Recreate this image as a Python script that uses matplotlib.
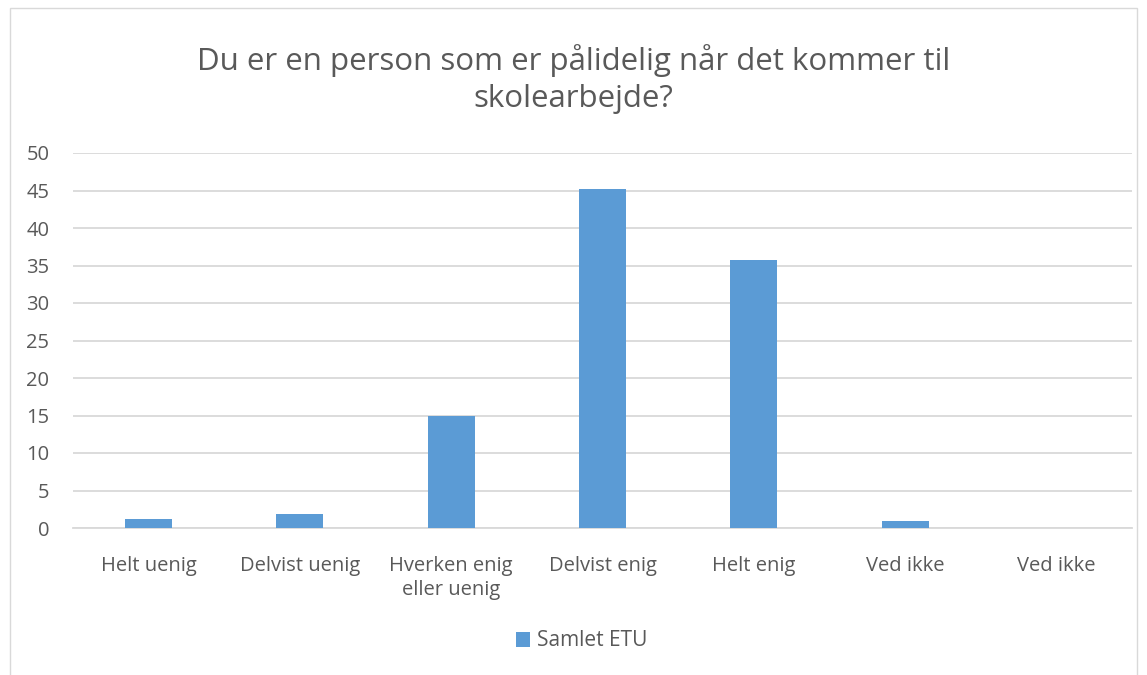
import matplotlib
matplotlib.use("Agg")
import matplotlib.pyplot as plt
from matplotlib.patches import Rectangle

categories = ["Helt uenig", "Delvist uenig", "Hverken enig\neller uenig",
              "Delvist enig", "Helt enig", "Ved ikke", "Ved ikke"]
samlet_etu = [1.15, 1.85, 14.9, 45.2, 35.8, 0.95, 0]
series_name = "Samlet ETU"
title = "Du er en person som er pålidelig når det kommer til\nskolearbejde?"

BAR_BLUE = "#5b9bd5"
TEXT_GREY = "#595959"
GRID_GREY = "#d9d9d9"

plt.rcParams["font.family"] = ["Open Sans", "DejaVu Sans"]

fig = plt.figure(figsize=(11.47, 6.75), dpi=100)
ax = fig.add_axes([73 / 1147, 1 - 528 / 675, (1132 - 73) / 1147, (528 - 153) / 675])

x = range(len(categories))
ax.bar(x, samlet_etu, width=0.31, color=BAR_BLUE, label=series_name, zorder=3)

ax.set_xlim(-0.5, len(categories) - 0.5)
ax.set_ylim(0, 50)
ax.set_yticks(range(0, 51, 5))
ax.set_xticks(list(x))
ax.set_xticklabels(categories, linespacing=1.25)
ax.tick_params(axis="both", length=0, labelsize=14.5, colors=TEXT_GREY)
ax.tick_params(axis="x", pad=20)
ax.tick_params(axis="y", pad=17)
ax.yaxis.grid(True, color=GRID_GREY, linewidth=1.3, zorder=0)
for s in ["top", "right", "left"]:
    ax.spines[s].set_visible(False)
ax.spines["bottom"].set_color(GRID_GREY)
ax.spines["bottom"].set_linewidth(1.3)

fig.text(0.5, 1 - 79 / 675, title, ha="center", va="center", fontsize=22.5,
         color=TEXT_GREY, linespacing=1.3)

fig.legend(loc="center", bbox_to_anchor=(0.5 + 8 / 1147, 1 - 641 / 675), frameon=False,
           fontsize=15, labelcolor=TEXT_GREY, handlelength=0.7, handleheight=0.7,
           handletextpad=0.3)

# chart area border
fig.patches.append(Rectangle((10 / 1147, -0.05), 1127 / 1147, 1.05 - 8 / 675,
                             transform=fig.transFigure, fill=False,
                             edgecolor=GRID_GREY, linewidth=1))

fig.savefig("out.png", dpi=100, facecolor="white")
